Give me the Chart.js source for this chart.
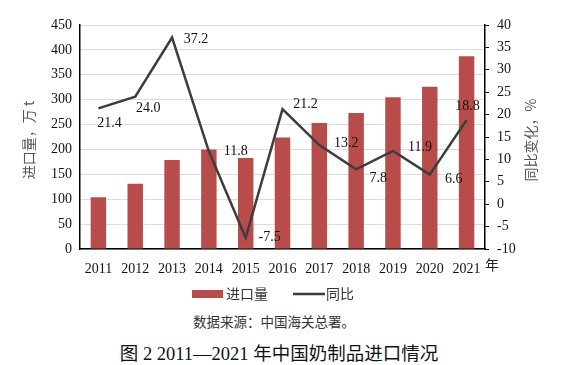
<!DOCTYPE html>
<html>
<head>
<meta charset="utf-8">
<script src="https://cdn.jsdelivr.net/npm/chart.js@4/dist/chart.umd.min.js"></script>
<style>
  body { margin: 0; background: #fff; }
  #wrap { position: relative; width: 566px; height: 365px; }
  #box { position: absolute; left: 0; top: 0; width: 566px; height: 310px; }
  .cap { position: absolute; left: 0; width: 566px; text-align: center; white-space: nowrap; }
  #src { top: 311px; left: -9px; font: 13.5px "Noto Sans CJK SC", sans-serif; color: #333; }
  #ttl { top: 339px; left: -4px; font: 18.5px "Liberation Serif", "Noto Sans CJK SC", serif; color: #111; }
</style>
</head>
<body>
<div id="wrap">
  <div id="box"><canvas id="chart" width="566" height="310"></canvas></div>
  <div class="cap" id="src">数据来源：中国海关总署。</div>
  <div class="cap" id="ttl">图 2 2011—2021 年中国奶制品进口情况</div>
</div>
<script>
const years = ['2011', '2012', '2013', '2014', '2015', '2016', '2017', '2018', '2019', '2020', '2021'];
const imports = [104, 131, 179, 200, 183, 224, 253, 273, 305, 326, 387];
const yoy = [21.4, 24.0, 37.2, 11.8, -7.5, 21.2, 13.2, 7.8, 11.9, 6.6, 18.8];

const numFont = { family: '"Liberation Serif", "Times New Roman", serif', size: 14 };
const cjk = '"Noto Sans CJK SC", sans-serif';
const barColor = '#b84c4b';
const lineColor = '#3d3d3d';

// where each yoy label sits relative to its point
const labelOffsets = [[11, 15], [13, 12], [24, 2], [27, 0], [24, 0], [23, -5],
  [27, -2], [22, 9], [27, -4], [24, 5], [1, -14]];

const extras = {
  id: 'extras',
  afterDatasetsDraw(chart) {
    const { ctx } = chart;
    const meta = chart.getDatasetMeta(1);
    ctx.save();
    ctx.font = '14px "Liberation Serif", serif';
    ctx.fillStyle = '#111';
    ctx.textAlign = 'center';
    ctx.textBaseline = 'middle';
    meta.data.forEach((pt, i) => {
      const [dx, dy] = labelOffsets[i];
      ctx.fillText(yoy[i].toFixed(1), pt.x + dx, pt.y + dy);
    });
    ctx.restore();
  },
  afterDraw(chart) {
    const { ctx, chartArea } = chart;
    ctx.save();
    // axis titles
    ctx.fillStyle = '#555';
    ctx.font = '14px ' + cjk;
    ctx.textAlign = 'center';
    ctx.textBaseline = 'middle';
    const midY = (chartArea.top + chartArea.bottom) / 2 + 3;
    ctx.save();
    ctx.translate(29, midY);
    ctx.rotate(-Math.PI / 2);
    ctx.fillText('进口量，万 t', 0, 0);
    ctx.restore();
    ctx.save();
    ctx.translate(531, midY);
    ctx.rotate(-Math.PI / 2);
    ctx.fillText('同比变化，%', 0, 0);
    ctx.restore();
    // unit after last year label
    ctx.fillStyle = '#222';
    ctx.fillText('年', 492, 265);
    // legend
    ctx.fillStyle = barColor;
    ctx.fillRect(192, 290, 31, 8);
    ctx.strokeStyle = lineColor;
    ctx.lineWidth = 2.5;
    ctx.beginPath();
    ctx.moveTo(293, 294);
    ctx.lineTo(325, 294);
    ctx.stroke();
    ctx.fillStyle = '#333';
    ctx.textAlign = 'left';
    ctx.fillText('进口量', 226, 294);
    ctx.fillText('同比', 326, 294);
    ctx.restore();
  }
};

new Chart(document.getElementById('chart'), {
  data: {
    labels: years,
    datasets: [
      {
        type: 'bar',
        label: '进口量',
        data: imports,
        backgroundColor: barColor,
        yAxisID: 'y',
        barPercentage: 0.42,
        categoryPercentage: 1,
        order: 2
      },
      {
        type: 'line',
        label: '同比',
        data: yoy,
        borderColor: lineColor,
        borderWidth: 2.5,
        pointRadius: 0,
        tension: 0,
        yAxisID: 'y1',
        order: 1
      }
    ]
  },
  options: {
    responsive: false,
    animation: false,
    layout: { padding: { left: 0, right: 0, top: 25, bottom: 35 } },
    scales: {
      x: {
        grid: { display: false },
        border: { display: true, color: '#000', width: 1.5 },
        ticks: { color: '#111', font: numFont, padding: 4, maxRotation: 0 },
        afterFit(s) { s.height = 26; }
      },
      y: {
        position: 'left',
        min: 0,
        max: 450,
        ticks: { stepSize: 50, color: '#111', font: numFont, padding: 8 },
        grid: { color: '#dcdcdc', drawTicks: false },
        border: { display: true, color: '#000', width: 1.5 },
        afterFit(s) { s.width = 80; }
      },
      y1: {
        position: 'right',
        min: -10,
        max: 40,
        ticks: { stepSize: 5, color: '#111', font: numFont, padding: 8 },
        grid: { drawOnChartArea: false, color: '#000', tickLength: 4 },
        border: { display: true, color: '#000', width: 1.5 },
        afterFit(s) { s.width = 81; }
      }
    },
    plugins: {
      legend: { display: false },
      tooltip: { enabled: false }
    }
  },
  plugins: [extras]
});
</script>
</body>
</html>
